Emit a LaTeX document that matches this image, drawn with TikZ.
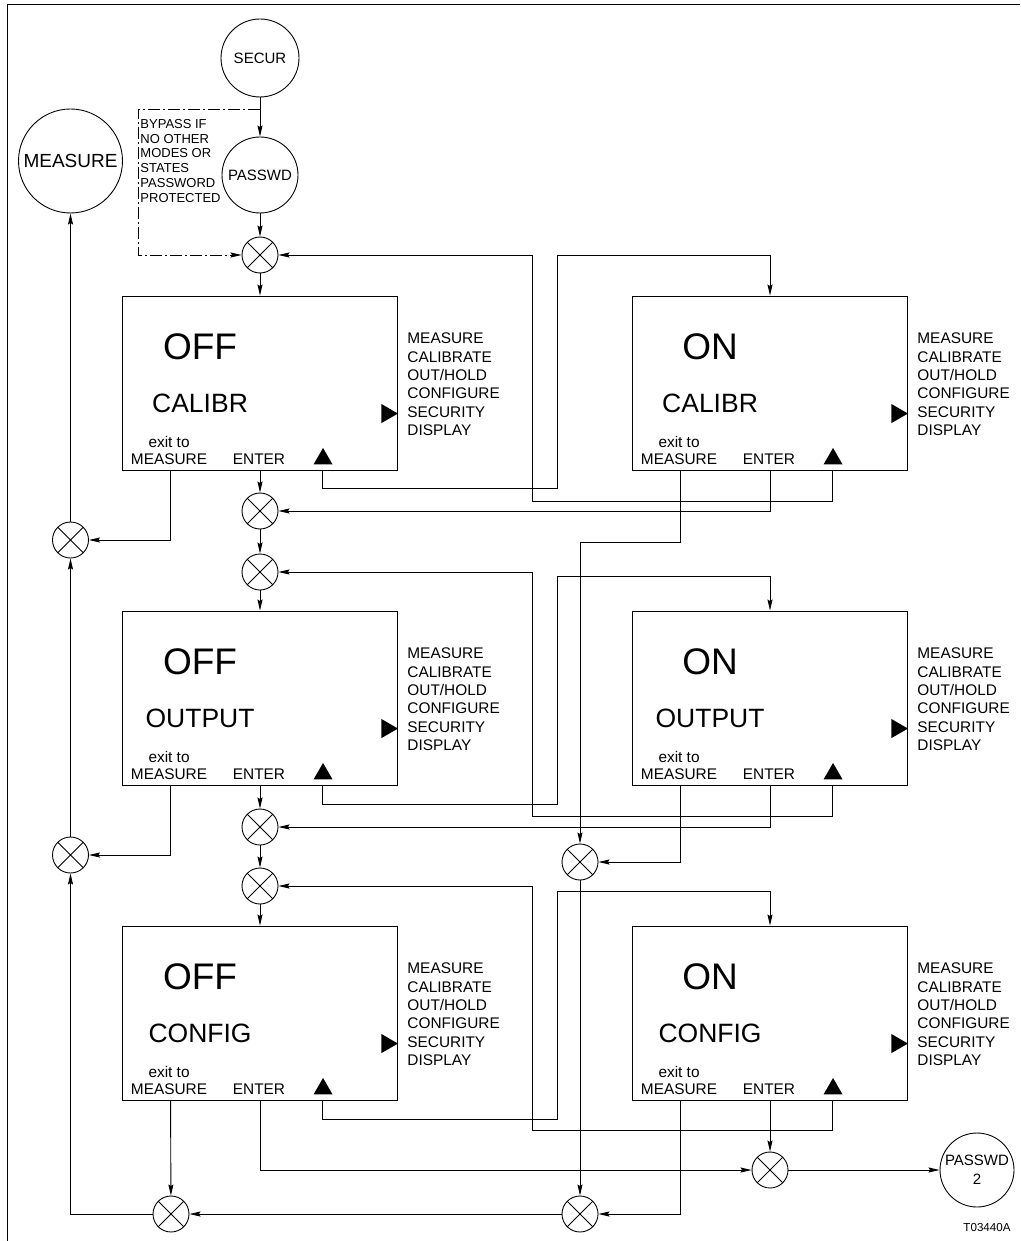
\documentclass[tikz,border=0pt]{standalone}
\usepackage{fontspec}
\setmainfont{Liberation Sans}
\usetikzlibrary{
    shapes.geometric,
    arrows.meta,
    positioning,
    calc
}

\begin{document}
\begin{tikzpicture}[
    x=1pt, y=-1pt,
    line width=0.9pt,
    every node/.style={inner sep=0pt},
    screen/.style={rectangle, draw=black, minimum width=275pt, minimum height=174pt},
    mode/.style={circle, draw=black, align=center, font=\fontsize{15}{19}\selectfont},
    junction/.style={circle, draw=black, minimum size=36pt,
                     path picture={\draw (path picture bounding box.north west) -- (path picture bounding box.south east)
                                        (path picture bounding box.south west) -- (path picture bounding box.north east);}},
    bigtxt/.style={font=\fontsize{37}{40}\selectfont},
    midtxt/.style={font=\fontsize{26.5}{30}\selectfont},
    keytxt/.style={font=\fontsize{15.4}{18.4}\selectfont},
    notetxt/.style={font=\fontsize{13}{14.7}\selectfont},
    tagtxt/.style={font=\fontsize{11.6}{14}\selectfont},
    keyup/.style={regular polygon, regular polygon sides=3, minimum size=22pt, fill=black},
    keyright/.style={keyup, regular polygon rotate=-90},
    arrow/.style={-{Stealth[length=11pt, width=5pt, inset=1.5pt]}},
    bypassline/.style={dash pattern=on 12pt off 3pt on 2pt off 3pt}
]
    \useasboundingbox (0,0) rectangle (1020,1241);
    \draw (7,1241) -- (7,4) -- (1020,4);

    % Entry and exit modes
    \node[mode, minimum size=78pt] (secur) at (260,58) {SECUR};
    \node[mode, minimum size=76pt] (passwd) at (260,175) {PASSWD};
    \node[mode, minimum size=104pt, font=\fontsize{19}{22}\selectfont] (measure) at (70.5,161) {MEASURE};
    \node[mode, minimum size=74pt] (passwd2) at (977,1170) {PASSWD\\2};
    \node[notetxt, align=left, anchor=north west] (bypass) at (140,119)
        {BYPASS IF\\NO OTHER\\MODES OR\\STATES\\PASSWORD\\PROTECTED};
    \node[tagtxt] (figid) at (987,1227) {T03440A};

    % Display screens
    \foreach \n/\x/\y/\s/\l in {offcal/260/383/OFF/CALIBR, oncal/770/383/ON/CALIBR,
                                offout/260/698/OFF/OUTPUT, onout/770/698/ON/OUTPUT,
                                offcfg/260/1013/OFF/CONFIG, oncfg/770/1013/ON/CONFIG}{
        \node[screen] (\n) at (\x,\y) {};
        \node[bigtxt, anchor=base] (\n-st) at ($(\n.north west)+(78,64)$) {\s};
        \node[midtxt, anchor=base] (\n-lb) at ($(\n.north west)+(78,116.5)$) {\l};
        \node[keytxt, anchor=base] (\n-ex) at ($(\n.south west)+(47,-23)$) {exit to};
        \node[keytxt, anchor=base] (\n-ms) at ($(\n.south west)+(47,-6)$) {MEASURE};
        \node[keytxt, anchor=base] (\n-en) at ($(\n.south)+(-1,-6)$) {ENTER};
        \node[keyup] (\n-up) at ($(\n.south west)+(201,-11.5)$) {};
        \node[keyright] (\n-rt) at ($(\n.north east)+(-11,118)$) {};
        \node[keytxt, align=left, anchor=north west] (\n-mn) at ($(\n.north east)+(9,37)$)
            {MEASURE\\CALIBRATE\\OUT/HOLD\\CONFIGURE\\SECURITY\\DISPLAY};
        \coordinate (\n-x) at ($(\n.south west)+(48.5,0)$);
        \coordinate (\n-e) at (\n.south);
        \coordinate (\n-u) at ($(\n.south west)+(200.5,0)$);
    }

    % Junctions
    \node[junction] (j1) at (260,255) {};
    \node[junction] (j2) at (260,511) {};
    \node[junction] (j3) at (260,572) {};
    \node[junction] (j4) at (260,827) {};
    \node[junction] (j5) at (260,886) {};
    \node[junction] (jl1) at (70.5,540) {};
    \node[junction] (jl2) at (70.5,855) {};
    \node[junction] (jm) at (580,862) {};
    \node[junction] (jb1) at (171,1214) {};
    \node[junction] (jb2) at (580,1214) {};
    \node[junction] (jp) at (770,1170) {};

    % Entry
    \coordinate (byp) at (260,109);
    \draw[arrow] (secur) -- (passwd);
    \draw[arrow] (passwd) -- (j1);
    \draw[arrow, bypassline] (byp) -- (138,109) |- (j1);

    % Main column
    \draw[arrow] (j1) -- (offcal);
    \draw[arrow] (offcal-e) -- (j2);
    \draw[arrow] (j2) -- (j3);
    \draw[arrow] (j3) -- (offout);
    \draw[arrow] (offout-e) -- (j4);
    \draw[arrow] (j4) -- (j5);
    \draw[arrow] (j5) -- (offcfg);

    % Exit to MEASURE
    \draw[arrow] (offcal-x) |- (jl1);
    \draw[arrow] (offout-x) |- (jl2);
    \draw[arrow] (offcfg-x) -- (jb1);
    \draw[arrow] (jb1) -| (jl2);
    \draw[arrow] (jl2) -- (jl1);
    \draw[arrow] (jl1) -- (measure);
    \draw[arrow] (oncal-x) -- ++(0,72) -| (jm);
    \draw[arrow] (onout-x) |- (jm);
    \draw[arrow] (jm) -- (jb2);
    \draw[arrow] (oncfg-x) |- (jb2);
    \draw[arrow] (jb2) -- (jb1);

    % Toggle OFF / ON
    \draw[arrow] (offcal-u) |- (557,488) -- (557,255) -| (oncal);
    \draw[arrow] (oncal-u) |- (532,501) |- (j1);
    \draw[arrow] (offout-u) |- (557,804) -- (557,576) -| (onout);
    \draw[arrow] (onout-u) |- (532,816) |- (j3);
    \draw[arrow] (offcfg-u) |- (557,1119) -- (557,891) -| (oncfg);
    \draw[arrow] (oncfg-u) |- (532,1130) |- (j5);

    % ENTER from ON
    \draw[arrow] (oncal-e) |- (j2);
    \draw[arrow] (onout-e) |- (j4);
    \draw[arrow] (oncfg-e) -- (jp);
    \draw[arrow] (offcfg-e) |- (jp);
    \draw[arrow] (jp) -- (passwd2);

\end{tikzpicture}
\end{document}
